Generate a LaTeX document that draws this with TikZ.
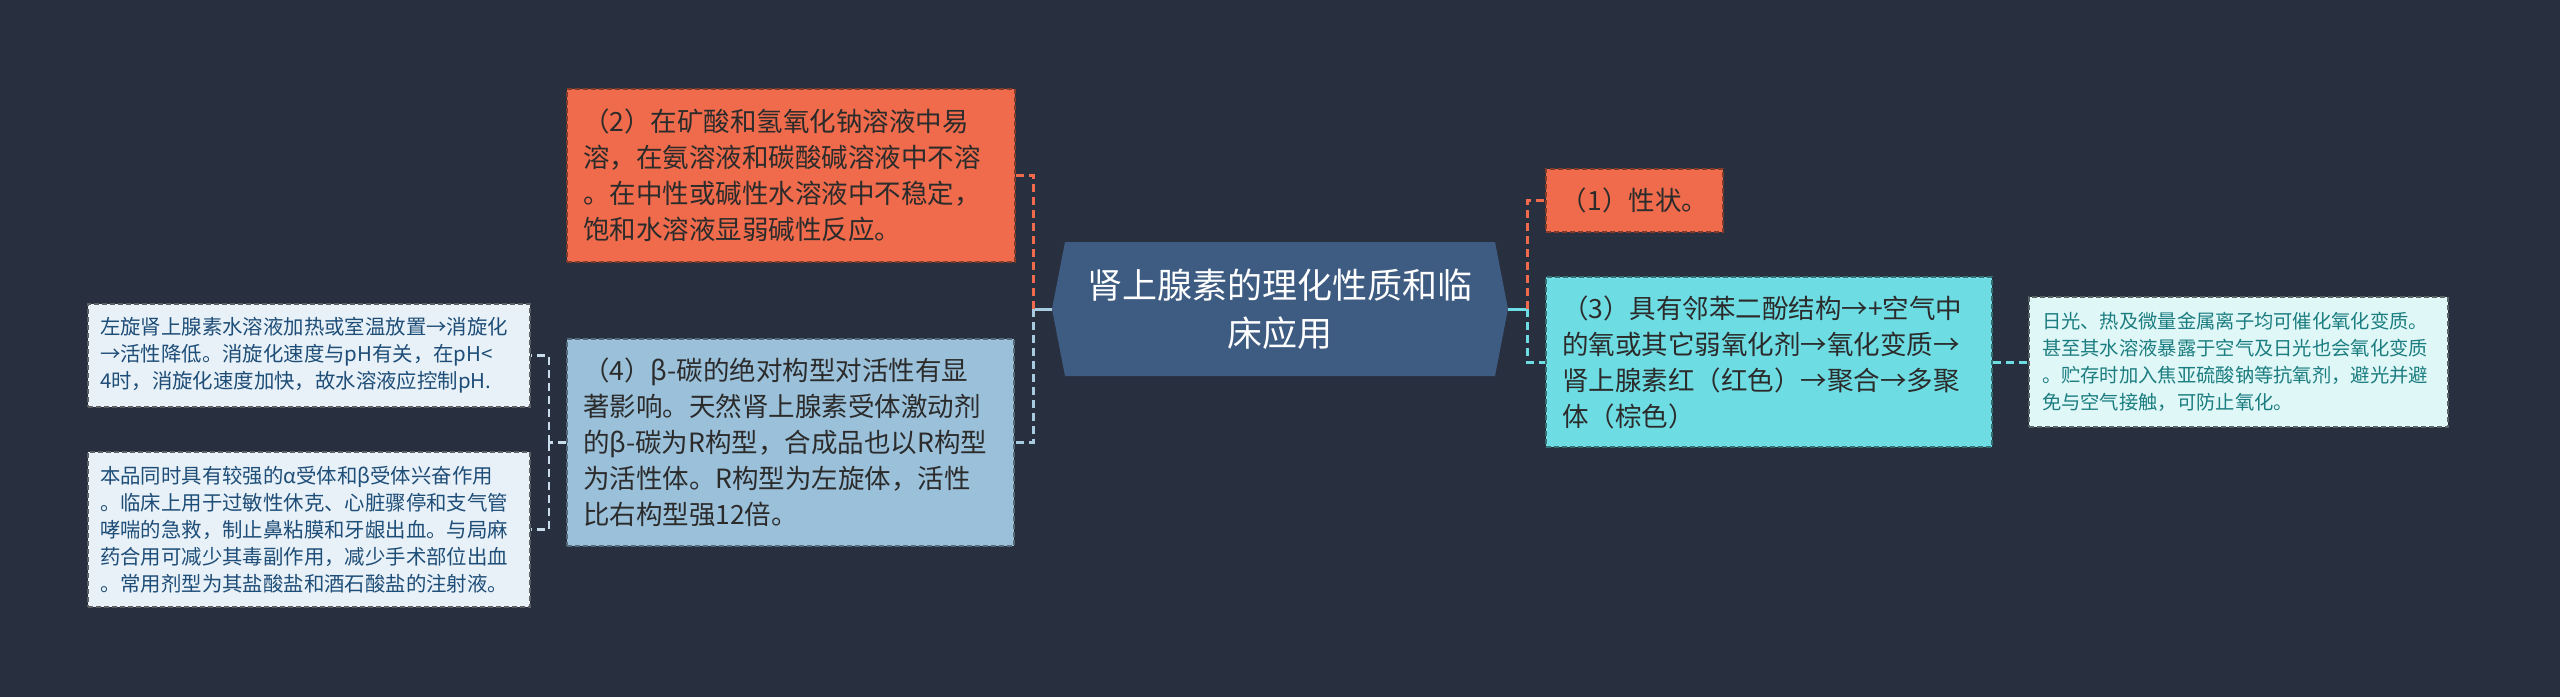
\documentclass[tikz,border=0pt]{standalone}
\usepackage{fontspec}
\setmainfont{Noto Sans CJK SC}
\usetikzlibrary{calc}
\definecolor{bg}{HTML}{283040}
\definecolor{orangebox}{HTML}{EF6B4C}
\definecolor{centerbox}{HTML}{3E5B82}
\definecolor{cyanbox}{HTML}{6EDCE3}
\definecolor{bluebox}{HTML}{9BC0DA}
\definecolor{paleblue}{HTML}{E8F1F7}
\definecolor{palecyan}{HTML}{E0F7F7}
\definecolor{darktext}{HTML}{2B2B2B}
\definecolor{navytext}{HTML}{1E4D78}
\definecolor{tealtext}{HTML}{1B7D80}
\definecolor{lightconn}{HTML}{A9CBE0}
\definecolor{paleconn}{HTML}{C8DCEA}
\tikzset{
  box/.style={rectangle, inner sep=0pt, align=left, line width=1.5pt, dash pattern=on 5pt off 3pt},
  bigtxt/.style={font=\fontsize{26.5}{36}\selectfont},
  smalltxt/.style={font=\fontsize{20.4}{27}\selectfont},
  conn/.style={line width=3pt, dash pattern=on 8pt off 5pt},
  solidconn/.style={line width=3pt},
}
\begin{document}
\begin{tikzpicture}[x=1pt,y=-1pt]
\fill[bg] (0,0) rectangle (2560,697);
\useasboundingbox (0,0) rectangle (2560,697);

% centre
\fill[centerbox] (1052,309) -- (1065,242) -- (1495,242) -- (1508,309) -- (1495,376) -- (1065,376) -- cycle;
\node[rectangle, inner sep=0pt, minimum width=456pt, minimum height=134pt, align=center, text=white,
      font=\fontsize{35}{48}\selectfont] (c) at (1280,309) {肾上腺素的理化性质和临\\床应用};

% left side main boxes
\node[box, bigtxt, fill=orangebox, draw=orangebox!55!black, text=darktext,
      minimum width=448pt, minimum height=173pt, text width=416pt] (b2) at (791,175.5)
  {（2）在矿酸和氢氧化钠溶液中易\\溶，在氨溶液和碳酸碱溶液中不溶\\。在中性或碱性水溶液中不稳定，\\饱和水溶液显弱碱性反应。};
\node[box, bigtxt, fill=bluebox, draw=bluebox!55!black, text=darktext,
      minimum width=447pt, minimum height=207pt, text width=415pt] (b4) at (790.5,442.5)
  {（4）β-碳的绝对构型对活性有显\\著影响。天然肾上腺素受体激动剂\\的β-碳为R构型，合成品也以R构型\\为活性体。R构型为左旋体，活性\\比右构型强12倍。};

% far left boxes
\node[box, smalltxt, fill=paleblue, draw=paleblue!40!black, text=navytext,
      minimum width=442pt, minimum height=103pt, text width=418pt] (l1) at (309,355.5)
  {左旋肾上腺素水溶液加热或室温放置→消旋化\\→活性降低。消旋化速度与pH有关，在pH<\\4时，消旋化速度加快，故水溶液应控制pH.};
\node[box, smalltxt, fill=paleblue, draw=paleblue!40!black, text=navytext,
      minimum width=442pt, minimum height=155pt, text width=418pt] (l2) at (309,529.5)
  {本品同时具有较强的α受体和β受体兴奋作用\\。临床上用于过敏性休克、心脏骤停和支气管\\哮喘的急救，制止鼻粘膜和牙龈出血。与局麻\\药合用可减少其毒副作用，减少手术部位出血\\。常用剂型为其盐酸盐和酒石酸盐的注射液。};

% right side boxes
\node[box, bigtxt, fill=orangebox, draw=orangebox!55!black, text=darktext,
      minimum width=177pt, minimum height=63pt] (b1) at (1634.5,200.5) {（1）性状。};
\node[box, bigtxt, fill=cyanbox, draw=cyanbox!50!black, text=darktext,
      minimum width=446pt, minimum height=170pt, text width=414pt] (b3) at (1769,362)
  {（3）具有邻苯二酚结构→+空气中\\的氧或其它弱氧化剂→氧化变质→\\肾上腺素红（红色）→聚合→多聚\\体（棕色）};
\node[box, font=\fontsize{19.3}{27}\selectfont, fill=palecyan, draw=palecyan!40!black, text=tealtext,
      minimum width=419pt, minimum height=130pt, text width=393pt] (b5) at (2238.5,362)
  {日光、热及微量金属离子均可催化氧化变质。\\甚至其水溶液暴露于空气及日光也会氧化变质\\。贮存时加入焦亚硫酸钠等抗氧剂，避光并避\\免与空气接触，可防止氧化。};

% connectors
\coordinate (jl) at (1033,309);
\coordinate (jr) at (1527,309);
\coordinate (jll) at (549,442.5);

\draw[solidconn, lightconn] (c.west) -- (jl);
\draw[conn, orangebox] (jl) |- (b2.east);
\draw[conn, lightconn] (jl) |- (b4.east);

\draw[solidconn, cyanbox] (c.east) -- (jr);
\draw[conn, orangebox] (jr) |- (b1.west);
\draw[conn, cyanbox] (jr) |- (b3.west);
\draw[conn, cyanbox] (b3.east) -- (b5.west);

\draw[conn, line width=2.5pt, paleconn] (b4.west) -- (jll);
\draw[conn, line width=2.5pt, paleconn] (jll) |- (l1.east);
\draw[conn, line width=2.5pt, paleconn] (jll) |- (l2.east);
\end{tikzpicture}
\end{document}
